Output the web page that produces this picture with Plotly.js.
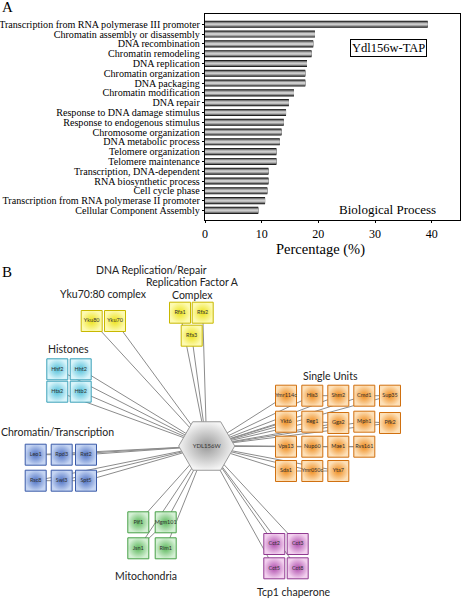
<!DOCTYPE html>
<html><head><meta charset="utf-8">
<script src="https://cdn.plot.ly/plotly-3.0.1.min.js"></script>
<style>html,body{margin:0;padding:0;background:#fff}#chart{width:461px;height:598px}</style>
</head><body><div id="chart"></div>
<script>
// ---- Panel A data ----
const categories = [
  "Transcription from RNA polymerase III promoter",
  "Chromatin assembly or disassembly",
  "DNA recombination",
  "Chromatin remodeling",
  "DNA replication",
  "Chromatin organization",
  "DNA packaging",
  "Chromatin modification",
  "DNA repair",
  "Response to DNA damage stimulus",
  "Response to endogenous stimulus",
  "Chromosome organization",
  "DNA metabolic process",
  "Telomere organization",
  "Telomere maintenance",
  "Transcription, DNA-dependent",
  "RNA biosynthetic process",
  "Cell cycle phase",
  "Transcription from RNA polymerase II promoter",
  "Cellular Component Assembly"
];
const percentages = [39.3, 19.4, 19.1, 18.8, 18.0, 17.7, 17.7, 15.7, 14.8, 14.3, 13.9, 13.5, 13.2, 12.6, 12.6, 11.2, 11.2, 11.0, 10.6, 9.4];
const xTickVals = [0, 10, 20, 30, 40];
const xTitle = "Percentage (%)";

// ---- Panel B data (network) ----
const hubName = "YDL156W";
const hubX = [206.7];
const hubY = [446];
const nodeNames = ["Yku80","Yku70","Rfa1","Rfa2","Rfa3",
  "Hhf2","Hht2","Hta2","Htb2",
  "Leo1","Rpd3","Rxt2","Rsc8","Swi3","Spt5",
  "Ymr114c","His3","Shm2","Cmd1","Sup35",
  "Ykt6","Reg1","Gga2","Mph1","Pfk2",
  "Vps13","Nup60","Mae1","Rvs161",
  "Sda1","Ymr050c","Yta7",
  "Pif1","Mgm101","Jsn1","Rim1",
  "Cct2","Cct3","Cct5","Cct8"];
const nodeX = [91.7,115,180,202.7,191.7,
  57.3,80.7,57.3,80.7,
  35.7,61.7,86,35.7,61.7,86,
  286,312.3,338.3,364.3,390,
  286,312.3,338.3,364.3,390,
  286,312.3,338.3,364.3,
  286,312.3,338.3,
  138.3,165.7,138.3,165.7,
  274.3,297.7,274.3,297.7];
const nodeY = [321,321,312.7,312.7,335.7,
  369.3,369.3,391.7,391.7,
  454.7,454.7,454.7,480.7,480.7,480.7,
  395.7,395.7,395.7,395.7,395.7,
  421.7,421.7,423,421.7,423,
  446.7,446.7,446.7,446.7,
  471,471,471,
  522.3,522.3,548.3,548.3,
  544,544,568.3,568.3];
const nodeGroup = ["yku","yku","rfa","rfa","rfa",
  "his","his","his","his",
  "chr","chr","chr","chr","chr","chr",
  "sin","sin","sin","sin","sin",
  "sin","sin","sin","sin","sin",
  "sin","sin","sin","sin",
  "sin","sin","sin",
  "mit","mit","mit","mit",
  "cct","cct","cct","cct"];
const groupCenter = {yku:"#fdfab0", rfa:"#fdfab0", his:"#d8f4fa", chr:"#c4d4f2", sin:"#fde0b8", mit:"#d4f0d4", cct:"#f2d0ee"};
const groupEdge   = {yku:"#ece21a", rfa:"#ece21a", his:"#52c0da", chr:"#4f72c4", sin:"#ef8c1e", mit:"#5db85d", cct:"#b04fae"};
const groupBorder = {yku:"#c8b800", rfa:"#c8b800", his:"#3aa0b8", chr:"#3a5aa8", sin:"#d07010", mit:"#47a047", cct:"#903a90"};
// intra-group links (pairs of node names)
const links = [["Leo1","Rpd3"],["Rpd3","Rxt2"],["Rsc8","Swi3"],["Swi3","Spt5"],
  ["His3","Shm2"],["Cmd1","Sup35"],["Reg1","Gga2"],["Mph1","Pfk2"],
  ["Vps13","Nup60"],["Nup60","Mae1"],["Mae1","Rvs161"],["Sda1","Ymr050c"],["Ymr050c","Yta7"],
  ["Jsn1","Mgm101"]];
const titleTexts = ["DNA Replication/Repair","Replication Factor A","Complex","Yku70:80 complex","Histones",
  "Chromatin/Transcription","Single Units","Mitochondria","Tcp1 chaperone"];
const titleX = [151,192,192,103,68,57,330,145.7,294.3];
const titleY = [270,282,295,294,349,432,376,575.7,591.7];

// ---- build traces ----
const serif = "Liberation Serif";
const sans = "Lato";
const traces = [];
const layers = [{c:"#111111", w:0.72}, {c:"#5a5a5a", w:0.58}, {c:"#959595", w:0.42}, {c:"#cdcdcd", w:0.22}];
layers.forEach(L => traces.push({
  type:"bar", orientation:"h", x:percentages, y:categories, width:L.w,
  marker:{color:L.c, line:{width:0}}, xaxis:"x", yaxis:"y", hoverinfo:"skip", showlegend:false
}));

// edges
const ex = [], ey = [];
for (let i = 0; i < nodeNames.length; i++) { ex.push(hubX[0], nodeX[i], null); ey.push(hubY[0], nodeY[i], null); }
links.forEach(([a,b]) => { const i = nodeNames.indexOf(a), j = nodeNames.indexOf(b);
  ex.push(nodeX[i], nodeX[j], null); ey.push(nodeY[i], nodeY[j], null); });
traces.push({type:"scatter", mode:"lines", x:ex, y:ey, xaxis:"x2", yaxis:"y2",
  line:{color:"#8c8c8c", width:1}, hoverinfo:"skip", showlegend:false});

// nodes
traces.push({type:"scatter", mode:"markers+text", x:nodeX, y:nodeY, text:nodeNames, xaxis:"x2", yaxis:"y2",
  textposition:"middle center", textfont:{family:sans, size:5.5, color:"#333"},
  marker:{symbol:"square", size:21, color:nodeGroup.map(g=>groupCenter[g]),
    gradient:{type:"radial", color:nodeGroup.map(g=>groupEdge[g])},
    line:{color:nodeGroup.map(g=>groupBorder[g]), width:1}},
  hoverinfo:"skip", showlegend:false});
// hub
traces.push({type:"scatter", mode:"markers+text", x:hubX, y:hubY, text:[hubName], xaxis:"x2", yaxis:"y2",
  textposition:"middle center", textfont:{family:sans, size:6, color:"#333"},
  marker:{symbol:"hexagon2", size:56, color:"#f4f4f4", gradient:{type:"radial", color:"#9a9a9a"},
    line:{color:"#999999", width:1}}, hoverinfo:"skip", showlegend:false});

const P = (t, x, y, size, extra) => Object.assign({text:t, x:x/461, y:1-y/598, xref:"paper", yref:"paper",
  xanchor:"center", yanchor:"middle", showarrow:false, font:{family:serif, size:size, color:"#000"}}, extra || {});
const annotations = [
  P("A", 7, 7, 15),
  P("B", 7, 272, 15),
  P("Ydl156w-TAP", 388.5, 47.8, 12.5, {bordercolor:"#000", borderwidth:1, borderpad:1, bgcolor:"#fff"}),
  P("Biological Process", 387, 209, 13),
  P(xTitle, 320, 249.5, 14.5)
];
titleTexts.forEach((t,i) => annotations.push({text:t, x:titleX[i], y:titleY[i], xref:"x2", yref:"y2",
  xanchor:"center", yanchor:"middle", showarrow:false, font:{family:sans, size:10.5, color:"#222"}}));

const layout = {
  width:461, height:598, margin:{l:0,r:0,t:0,b:0}, paper_bgcolor:"#fff", plot_bgcolor:"rgba(0,0,0,0)",
  barmode:"overlay", showlegend:false,
  xaxis:{domain:[205/461, 460/461], range:[0,45], tickvals:xTickVals, ticks:"outside", ticklen:2, tickcolor:"#000",
    showline:true, mirror:true, linecolor:"#000", linewidth:1.2, showgrid:false, zeroline:false, anchor:"y",
    tickfont:{family:serif, size:12, color:"#000"}},
  yaxis:{domain:[1-220/598, 1-14/598], type:"category", tickmode:"array", tickvals:categories, ticktext:categories,
    range:[19.98,-1.05], ticks:"outside", ticklen:2, tickcolor:"#000",
    showline:true, mirror:true, linecolor:"#000", linewidth:1.2, showgrid:false, zeroline:false, anchor:"x",
    tickfont:{family:serif, size:10.1, color:"#000"}},
  xaxis2:{domain:[0,1], range:[0,461], visible:false, anchor:"y2"},
  yaxis2:{domain:[0, 340/598], range:[598,258], visible:false, anchor:"x2"},
  annotations:annotations
};
Plotly.newPlot("chart", traces, layout, {staticPlot:true, displayModeBar:false});
</script></body></html>
